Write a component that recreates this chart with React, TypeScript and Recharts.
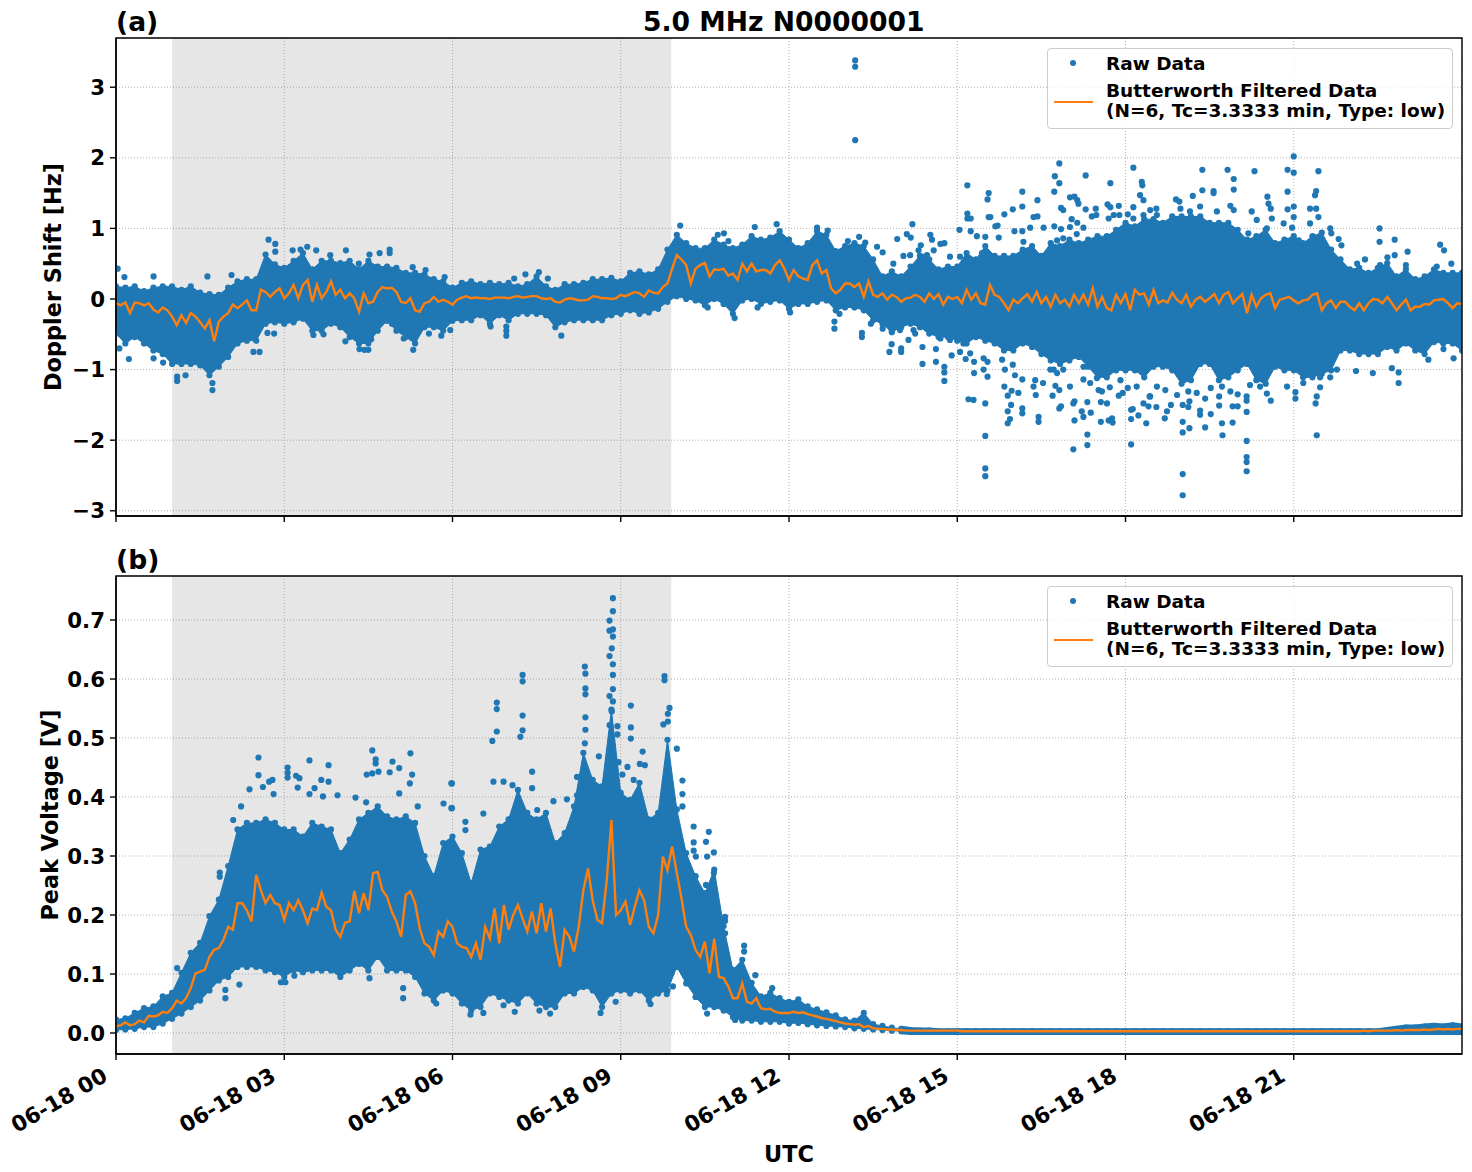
import {
  Area,
  CartesianGrid,
  ComposedChart,
  Legend,
  Line,
  ReferenceArea,
  Scatter,
  XAxis,
  YAxis,
} from "recharts";

const FONT = "'DejaVu Sans', sans-serif";
const BLUE = "#1f77b4";
const ORANGE = "#ff7f0e";

const hourTicks = [0, 3, 6, 9, 12, 15, 18, 21];
const hourLabels = ["06-18 00", "06-18 03", "06-18 06", "06-18 09", "06-18 12", "06-18 15", "06-18 18", "06-18 21"];
const dopplerTicks = [-3, -2, -1, 0, 1, 2, 3];
const voltageTicks = [0, 0.1, 0.2, 0.3, 0.4, 0.5, 0.6, 0.7];
const nightStart = 1.0;
const nightEnd = 9.9;

// edge of the solid part of the raw cloud (dot centres), one value per 10 minutes
const dopplerHigh = [
  .18, .16, .18, .11, .16, .18, .18, .13, .18, .09, .07, .06,
  .16, .25, .28, .28, .63, .49, .44, .54, .65, .42, .54, .54,
  .51, .54, .42, .54, .46, .46, .44, .37, .37, .35, .28, .25, .16,
  .23, .25, .21, .23, .21, .23, .18, .21, .32, .18, .13,
  .21, .21, .23, .28, .28, .3, .25, .37, .39, .35, .42, .7, .91,
  .79, .72, .72, .84, .77, .72, .77, .89, .84, .87, .96, .84,
  .72, .79, .96, .91, .68, .75,
  .79, .75, .56, .32, .39, .32, .46, .61, .56, .42, .46, .46,
  .65, .56, .75, .61, .61, .61, .7, .75, .61, .79, .75, .84,
  .79, .84, .89, .89, .98, 1.08, 1.03, 1.13,
  1.13, 1.08, 1.17, 1.17, 1.17, 1.17, 1.08, 1.08, 1.08, .98, .84, .89,
  .98, .79, .84, .89, .79, .89, .94, .7, .56, .42, .44, .37,
  .44, .51, .32, .42, .28, .32, .42, .37, .37, .37,
];
const dopplerLow = [
  -.49, -.63, -.54, -.63, -.73, -.78, -.92, -.92, -.92, -.94, -1.08, -.96,
  -.82, -.63, -.59, -.59, -.35, -.33, -.35, -.33, -.28, -.45, -.45, -.35,
  -.4, -.54, -.63, -.63, -.45, -.31, -.45, -.54, -.63, -.4, -.4, -.45, -.31,
  -.3, -.3, -.23, -.35, -.23, -.3, -.21, -.21, -.21, -.23, -.4,
  -.33, -.3, -.3, -.3, -.3, -.23, -.21, -.16, -.21, -.19, -.14, -.04, .04,
  0, -.02, -.09, 0, -.07, -.21, -.02, 0, -.07, -.04, -.02, -.14,
  -.07, -.07, -.04, -.02, -.16, -.12,
  -.12, -.16, -.3, -.35, -.47, -.4, -.35, -.4, -.49, -.54, -.54, -.59,
  -.63, -.54, -.59, -.63, -.73, -.73, -.63, -.68, -.78, -.87, -.92, -.87,
  -.82, -.96, -1.11, -1.11, -1.01, -1.01, -1.01, -1.11,
  -.96, -.96, -1.01, -1.2, -1.15, -.92, -.92, -1.15, -1.11, -1.01, -.92, -1.15,
  -1.2, -.96, -1.01, -1.01, -1.11, -1.11, -1.06, -1.01, -.73, -.73, -.78, -.78,
  -.78, -.68, -.73, -.63, -.73, -.78, -.61, -.63, -.63, -.73,
];

// stray raw samples outside the solid part: [hour, Hz]
const dopplerStray = [
  [13.18, 3.38], [13.18, 3.29], [13.18, 2.25],
  [2.72, .84], [2.84, .78], [2.84, .67], [.03, .43], [.15, .31], [.67, .32], [1.63, .32], [2.06, .34],
  [3.15, .69], [3.29, .7], [3.41, .74], [3.57, .69], [3.82, .62], [4.1, .69], [4.52, .63], [4.7, .65],
  [4.88, .7], [4.88, .65], [4.33, .5], [5.29, .45], [5.52, .41], [5.86, .31],
  [1.72, -1.29], [1.72, -1.19], [1.09, -1.1], [1.09, -1.16], [1.24, -1.08], [.84, -.9], [.67, -.84],
  [.23, -.85], [.06, -.7], [2.45, -.75], [2.56, -.75], [2.7, -.48], [2.82, -.49], [3.52, -.51], [3.7, -.5],
  [4.09, -.6], [4.23, -.52], [4.34, -.71], [4.43, -.72], [4.5, -.72], [4.55, -.57], [4.92, -.35],
  [5.3, -.72], [5.13, -.56], [5.58, -.49], [5.8, -.52],
  [7.1, .29], [7.3, .35], [7.54, .38], [7.7, .29], [10.84, .93], [10.06, 1.04], [11.39, 1.02], [11.78, 1.06],
  [12.5, 1.01], [12.69, .97], [13.05, .82], [10.92, .82], [10.73, .91],
  [6.96, -.39], [6.96, -.45], [6.96, -.52], [6.68, -.39], [7.94, -.52], [12.81, -.32], [12.81, -.42],
  [12.9, -.21], [11.03, -.27], [11.44, -.12], [12.02, -.19], [10.55, -.12], [5.96, -.44],
  [16.82, 1.92], [16.74, 1.74], [16.82, 1.64], [17.29, 1.75], [18.14, 1.86], [17.73, 1.64], [15.18, 1.61],
  [15.56, 1.5], [15.54, 1.41], [16.16, 1.52], [16.16, 1.31], [15.99, 1.27], [15.84, 1.2], [16.43, 1.4],
  [16.73, 1.52], [16.85, 1.29], [16.89, 1.26], [17.01, 1.44], [17.09, 1.45], [17.14, 1.4], [17.16, 1.35],
  [17.29, 1.27], [17.47, 1.28], [17.68, 1.34], [17.73, 1.3], [17.88, 1.32], [18.29, 1.66], [18.3, 1.61],
  [18.26, 1.47], [18.32, 1.4], [18.14, 1.3], [18.04, 1.2], [18.44, 1.26], [18.55, 1.28], [15.18, 1.21],
  [15.18, 1.14], [15.24, 1.14], [15.56, 1.16], [15.59, 1.16], [16.36, 1.16], [16.43, 1.17], [17.04, 1.13],
  [17.14, 1.08], [14.2, 1.06], [13.93, .85], [14.1, .92], [14.17, .87], [14.52, .91], [14.55, .84],
  [14.7, .78], [14.77, .79], [14.35, .76], [15.04, .98], [15.24, .96], [15.35, .89], [15.5, .88],
  [15.72, 1.04], [15.68, 1.03], [16.02, .96], [16.16, .96], [16.3, 1.01], [16.54, 1.01], [16.73, 1.03],
  [16.85, .99], [17.01, 1.02], [17.25, 1.01], [17.4, 1.17], [17.48, 1.19], [17.7, 1.14], [17.79, 1.19],
  [17.89, 1.19], [18.14, 1.14], [18.32, 1.19], [18.56, 1.19], [16.89, .86], [17.13, .92], [16.78, .83],
  [16.18, .81], [15.74, .87], [15.44, .65], [14.04, .61], [13.86, .5], [13.67, .66], [13.57, .74],
  [13.36, .8], [13.25, .88], [14.46, .62], [14.31, .69], [14.58, .69], [14.87, .6], [15.05, .6], [14.16, .62], [14.37, .6],
  [13.98, -.44], [14.22, -.44], [14.46, -.42], [14.7, -.56], [14.87, -.58], [15.11, -.63], [15.23, -.77], [14.13, -.58], [14.25, -.49],
  [13.3, -.48], [13.3, -.54], [13.46, -.35], [13.67, -.42], [13.83, -.44], [13.83, -.64], [13.79, -.75],
  [14, -.7], [14, -.75], [14.38, -.68], [14.38, -.92], [14.62, -.89], [14.62, -.71], [14.77, -.96],
  [14.77, -1.04], [14.77, -1.16], [14.9, -.8], [15.05, -.75], [15.15, -.85], [15.2, -1.42], [15.29, -1.43],
  [15.3, -.89], [15.3, -1.05], [15.5, -1.48], [15.5, -1.94], [15.5, -2.4], [15.5, -2.51], [15.47, -.84],
  [15.54, -.89], [15.54, -1.1], [15.47, -1.0], [15.8, -.86], [15.85, -1.0], [15.9, -1.37], [15.84, -1.24],
  [15.97, -1.3], [16.09, -1.33], [15.96, -1.5], [15.9, -1.59], [15.94, -1.7], [15.9, -1.76], [16.16, -1.55],
  [16.16, -1.62], [16.16, -1.14], [16.03, -1.08], [15.99, -.93], [16.39, -1.15], [16.36, -1.24], [16.4, -1.36],
  [16.53, -1.19], [16.45, -1.67], [16.45, -1.74], [16.7, -1.37], [16.82, -1.29], [16.75, -1.23], [16.85, -1.52],
  [16.82, -1.55], [17.09, -1.45], [17.07, -1.48], [17.22, -1.59], [17.25, -1.67], [17.09, -1.72], [17.07, -2.13],
  [17.32, -1.46], [17.38, -1.61], [17.32, -1.92], [17.32, -2.07], [17.56, -1.46], [17.67, -1.48], [17.56, -1.74],
  [17.7, -1.72], [17.76, -1.69], [17.77, -1.75], [17.37, -1.19], [17.25, -1.14], [17.52, -1.29], [17.58, -1.31],
  [17.88, -1.37], [17.95, -1.33], [18.1, -1.57], [18.13, -1.56], [18.23, -1.65], [18.37, -1.76], [18.1, -1.7],
  [18.1, -2.06], [18.41, -1.52], [18.55, -1.53], [18.32, -1.48], [18.43, -1.38], [18.56, -1.24], [18.2, -1.24],
  [17.72, -1.25], [17.01, -1.24], [16.72, -1.0], [16.78, -1.05], [16.89, -1.0], [17.25, -.96], [17.49, -1.12],
  [17.91, -1.15], [18.04, -1.26], [16.66, -1.0],
  [21, 2.02], [19.37, 1.83], [19.82, 1.83], [20.3, 1.81], [20.89, 1.83], [21, 1.79], [21.44, 1.81], [19.93, 1.7],
  [19.37, 1.54], [19.57, 1.53], [19.57, 1.5], [19.93, 1.55], [19.2, 1.46], [18.9, 1.41], [18.96, 1.38],
  [20.53, 1.45], [20.89, 1.52], [21.4, 1.53], [21.38, 1.47], [20.55, 1.35], [20.89, 1.27], [21, 1.31],
  [21.29, 1.28], [21.4, 1.28], [21, 1.16], [21.44, 1.16], [20.59, 1.28], [20.61, 1.14], [19.33, 1.31],
  [19.87, 1.32], [19.93, 1.26], [20.25, 1.24], [20.34, 1.12], [20.82, 1.07], [21.29, 1.07], [20.97, 1.01],
  [21.65, 1.0], [22.53, 1.0], [22.53, .81], [22.8, .84], [21.8, .85], [21.85, .76], [23.61, .77], [23.68, .69],
  [23.03, .67], [22.8, .62], [22.27, .56], [23.81, .5], [23, .48], [22.67, .59], [19.15, 1.24], [18.98, 1.28],
  [19.63, 1.24], [20.19, .93], [20.46, .86], [20.52, 1.0], [21.09, .83], [21.67, .93], [22.13, .5], [22.54, .48],
  [23.55, .46],
  [19.02, -2.78], [19.02, -2.48], [19.02, -1.89], [19.02, -1.74], [19.14, -1.83], [18.7, -1.69], [18.74, -1.59],
  [18.81, -1.5], [19.02, -1.5], [19.12, -1.53], [19.14, -1.45], [19.33, -1.58], [19.33, -1.64], [19.52, -1.63],
  [19.42, -1.82], [19.72, -1.76], [19.73, -1.93], [19.91, -1.75], [19.67, -1.51], [19.91, -1.52], [20, -1.52],
  [19.42, -1.41], [19.52, -1.26], [19.67, -1.38], [20, -1.35], [20.16, -1.38], [20.16, -1.44], [20.16, -1.6],
  [20.16, -2.01], [20.16, -2.24], [20.16, -2.31], [20.16, -2.44], [20.59, -1.44], [21.03, -1.41], [21.03, -1.32],
  [21.39, -1.48], [21.41, -1.38], [21.41, -1.93], [21.47, -1.25], [20.52, -1.34], [20.88, -1.24], [20.22, -1.22],
  [20.4, -1.24], [21.17, -1.19], [21.47, -1.11], [21.65, -1.11], [22.11, -1.02], [22.41, -1.05], [22.75, -.98],
  [22.87, -1.19], [22.87, -1.04], [21.77, -1.0], [23.4, -.86], [23.85, -.84], [23.67, -.71], [19.12, -1.31],
  [18.92, -1.36], [18.71, -1.29], [18.44, -1.38], [19.27, -1.33], [19.72, -1.24], [19.87, -1.31],
];

// low-pass filtered Doppler shift, one value per 5 minutes
const dopplerFiltered = [
  -.06, -.09, -.05, -.2, -.05, -.06, -.09, -.06, -.15, -.19, -.12, -.16,
  -.25, -.37, -.23, -.34, -.2, -.25, -.33, -.42, -.3, -.6, -.32, -.25,
  -.2, -.08, -.13, -.08, -.02, -.16, -.16, .13, .1, .03, .1, .15,
  .01, .08, .2, .01, .2, .27, -.04, .2, .01, .1, .25, .06,
  .13, .01, .08, .01, -.18, .08, -.06, -.04, .1, .17, .15, .16,
  .1, -.04, -.06, .01, -.16, -.18, -.06, -.04, .03, -.04, -.01, -.04,
  -.08, -.01, .02, .04, .01, .02, .01, .01, 0, .02, .02, .02,
  .01, .03, .04, .02, .03, .04, .04, .01, 0, .01, -.04, -.05,
  -.01, .01, 0, -.02, -.02, -.01, .04, .03, .01, .01, 0, .01,
  .06, .04, .07, .1, .08, .03, .12, .09, .08, .17, .22, .43,
  .62, .56, .48, .22, .43, .48, .51, .32, .42, .41, .43, .33,
  .36, .27, .5, .39, .5, .39, .41, .41, .36, .48, .55, .43,
  .27, .41, .32, .29, .27, .48, .55, .36, .41, .15, .08, .13,
  .22, .22, .17, .22, .03, .25, .06, .03, .08, -.01, .06, .03,
  -.04, .01, .02, .06, .03, -.04, .08, 0, .07, -.08, .03, 0,
  .03, -.06, .13, -.01, .08, -.06, -.08, .2, .06, .03, -.06, -.16,
  -.01, -.06, .01, .07, -.04, .1, -.06, .03, -.11, .06, -.06, -.01,
  -.11, .06, -.06, .06, -.08, .15, -.11, .03, -.13, -.16, .06, -.06,
  .07, -.16, .13, .06, .08, -.08, .13, -.06, -.02, -.05, .09, -.01,
  -.06, .06, -.11, -.01, .03, -.04, .01, .07, -.06, .06, .1, -.06,
  .01, .07, -.2, .06, -.11, .01, .06, .08, -.13, -.01, .01, .03,
  -.02, -.06, -.02, -.01, .06, .08, -.16, -.06, -.02, -.13, -.04, -.04,
  -.11, -.16, -.06, -.16, -.06, 0, -.01, -.06, .03, -.06, -.16, -.08,
  -.01, -.16, -.11, -.11, -.07, -.08, -.02, -.01, 0, -.06, -.13, -.06, -.07,
];

const voltageHigh = [
  .023, .025, .034, .042, .045, .062, .068, .102, .136, .153, .198, .226,
  .283, .345, .356, .356, .362, .356, .345, .345, .333, .356, .35, .345,
  .305, .328, .362, .373, .384, .367, .362, .367, .356, .3, .266, .322, .333,
  .305, .254, .311, .316, .35, .362, .412, .373, .362, .373, .322,
  .339, .384, .475, .429, .418, .548, .407, .395, .424, .362, .373, .497,
  .379, .305, .266, .237, .277, .181, .107, .124, .085, .062, .068, .059, .053,
  .057, .045, .04, .035, .03, .023, .021, .034, .015, .012, .009, .007,
  .005, .004, .004,
  .003, .003, .003, .003, .003, .003, .003, .003, .003, .003, .003, .003,
  .003, .003, .003, .003, .003, .003, .003, .003, .003, .003, .003, .003,
  .003, .003, .003, .003, .003, .003, .003, .003, .003, .003, .003, .003,
  .003, .003, .003, .003, .003, .003, .003, .003, .003, .003, .003, .003,
  .005, .007, .009, .009, .011, .012, .011, .013, .011,
];
const voltageLow = [
  .005, .006, .007, .01, .01, .016, .024, .033, .044, .055, .072, .089,
  .095, .112, .112, .112, .106, .103, .095, .106, .103, .106, .106, .106,
  .095, .106, .117, .106, .129, .106, .106, .106, .095, .067, .055, .072, .067,
  .05, .038, .044, .067, .061, .055, .05, .067, .05, .044, .044,
  .067, .067, .078, .072, .044, .067, .072, .067, .072, .055, .067, .072,
  .112, .084, .061, .044, .044, .038, .027, .021, .021, .019, .019, .019, .016,
  .017, .015, .013, .012, .011, .01, .008, .007, .006, .005, .004, .003,
  .002, .002, .002,
  .002, .002, .002, .002, .002, .002, .002, .002, .002, .002, .002, .002,
  .002, .002, .002, .002, .002, .002, .002, .002, .002, .002, .002, .002,
  .002, .002, .002, .002, .002, .002, .002, .002, .002, .002, .002, .002,
  .002, .002, .002, .002, .002, .002, .002, .002, .002, .002, .002, .002,
  .002, .002, .002, .002, .002, .002, .002, .002, .002,
];
const voltageStray = [
  [2.54, .467], [2.54, .437], [3.06, .45], [3.06, .441], [3.06, .433], [3.45, .462], [3.79, .454], [4.57, .479],
  [4.63, .464], [4.63, .457], [5.25, .474], [4.93, .46], [5.05, .449], [4.47, .438], [4.57, .44], [4.68, .443],
  [4.88, .442], [5.28, .438], [5.98, .423], [2.38, .413], [2.62, .417], [2.79, .429], [2.73, .426], [3.21, .436],
  [3.27, .432], [3.66, .429], [3.79, .426], [3.24, .416], [3.54, .415], [2.81, .405], [3.45, .405], [3.95, .403],
  [3.69, .401], [4.27, .399], [4.46, .391], [5.05, .406], [5.24, .423], [5.38, .384], [5.84, .389], [5.98, .381],
  [2.09, .361], [2.23, .384], [1.85, .272], [1.85, .265], [1.09, .11],
  [1.95, .073], [1.95, .059], [2.2, .082], [2.94, .086], [3.02, .086], [3.18, .097], [4.52, .093], [5.12, .076],
  [5.12, .059], [5.71, .05],
  [8.86, .737], [8.86, .715], [8.8, .699], [8.8, .682], [8.86, .684], [8.86, .672], [8.84, .652], [8.8, .639],
  [8.86, .625], [8.86, .607], [8.86, .583], [8.8, .571], [8.86, .562], [8.84, .545], [8.8, .522], [8.94, .52],
  [8.94, .506], [7.25, .607], [7.25, .596], [6.79, .56], [6.79, .549], [6.79, .511], [6.71, .495], [7.25, .538],
  [7.25, .513], [7.21, .502], [8.36, .621], [8.37, .609], [8.37, .584], [8.37, .574], [8.37, .535], [8.37, .514],
  [8.36, .491], [9.18, .555], [9.18, .518], [9.18, .499], [9.39, .477], [9.78, .605], [9.78, .598], [9.87, .551],
  [9.84, .541], [9.76, .523], [9.84, .528], [10, .482], [10.1, .428], [10.1, .405], [10.1, .384], [10.3, .35],
  [10.3, .323], [10.3, .309], [10.34, .299], [10.57, .341], [10.52, .324], [10.66, .306], [10.54, .299], [10.33, .265],
  [10.52, .251], [10.66, .271], [10.86, .197], [10.86, .19], [10.86, .169], [11.2, .148], [11.2, .138], [11.4, .098],
  [11.7, .076], [5.99, .423], [5.99, .381], [6.23, .358], [6.23, .344], [6.55, .372], [6.73, .426], [6.91, .426],
  [7.07, .42], [7.42, .443], [7.42, .415], [7.8, .393], [7.51, .378], [8.04, .396], [8.22, .434], [8.22, .403],
  [8.61, .469], [8.96, .459], [9.12, .451], [9.34, .456], [9.43, .454], [9.03, .438], [9.23, .429],
  [6.32, .031], [6.55, .034], [6.91, .047], [7.11, .036], [7.55, .038], [7.74, .033], [8.64, .034], [8.91, .053],
  [9.53, .049], [9.82, .066], [9.93, .079], [9.82, .09], [10.54, .033], [11.04, .022],
];
const voltageFiltered = [
  .012, .013, .018, .013, .015, .021, .018, .029, .028, .03, .036, .034,
  .042, .055, .05, .059, .076, .101, .104, .107, .129, .141, .144, .158,
  .18, .175, .22, .22, .208, .189, .268, .242, .22, .234, .22, .217,
  .192, .22, .208, .225, .208, .186, .211, .208, .238, .214, .208, .175,
  .163, .187, .189, .241, .203, .237, .208, .271, .273, .242, .231, .206,
  .189, .163, .234, .24, .22, .177, .152, .146, .132, .172, .163, .189,
  .18, .152, .146, .144, .129, .152, .124, .18, .16, .211, .152, .217,
  .175, .2, .217, .194, .172, .206, .169, .22, .172, .211, .152, .112,
  .175, .163, .138, .18, .242, .279, .225, .192, .186, .259, .361, .2,
  .208, .223, .183, .214, .242, .225, .18, .169, .2, .299, .276, .316,
  .271, .228, .18, .166, .141, .129, .155, .101, .16, .095, .093, .079,
  .059, .059, .084, .053, .05, .059, .042, .04, .041, .036, .034, .034,
  .034, .036, .034, .035, .032, .03, .028, .025, .024, .022, .02, .018,
  .016, .015, .014, .015, .01, .012, .008, .007, .007, .006, .006, .005,
  .005, .004, .004, .004, .004, .004, .004, .004, .004, .004, .004, .004,
  .004, .003, .003, .003, .003, .003, .003, .003, .003, .003, .003, .003,
  .003, .003, .003, .003, .003, .003, .003, .003, .003, .003, .003, .003,
  .003, .003, .003, .003, .003, .003, .003, .003, .003, .003, .003, .003,
  .003, .003, .003, .003, .003, .003, .003, .003, .003, .003, .003, .003,
  .003, .003, .003, .003, .003, .003, .003, .003, .003, .003, .003, .003,
  .003, .003, .003, .003, .003, .003, .003, .003, .003, .003, .003, .003,
  .003, .003, .003, .003, .003, .003, .003, .003, .003, .003, .003, .003,
  .003, .003, .003, .004, .003, .004, .004, .004, .004, .004, .005, .004,
  .005, .005, .005, .005, .006, .005, .006, .007, .006, .007, .006, .007, .007,
];

const toBand = (high: number[], low: number[]) =>
  high.map((h, i) => ({ t: i / 6, band: [low[i], h] }));
const toLine = (values: number[]) => values.map((v, i) => ({ t: i / 12, v }));
const toPoints = (pairs: number[][]) => pairs.map(([t, v]) => ({ t, v }));
const toEdge = (values: number[]) => values.map((v, i) => ({ t: i / 6, v }));

const legendText = { font: `bold 18.5px ${FONT}`, color: "#000", whiteSpace: "nowrap" as const, position: "absolute" as const, left: 58 };

function FitLegend() {
  return (
    <div
      style={{
        position: "relative",
        width: 404,
        height: 79,
        background: "rgba(255,255,255,0.8)",
        border: "1.3px solid #cccccc",
        borderRadius: 4,
      }}
    >
      <span style={{ position: "absolute", left: 22, top: 11, width: 6, height: 6, borderRadius: 3, background: BLUE }} />
      <span style={{ ...legendText, top: 4 }}>Raw Data</span>
      <span style={{ position: "absolute", left: 6, top: 52, width: 39, height: 2, background: ORANGE }} />
      <span style={{ ...legendText, top: 31 }}>Butterworth Filtered Data</span>
      <span style={{ ...legendText, top: 51 }}>(N=6, Tc=3.3333 min, Type: low)</span>
    </div>
  );
}

function RawDot(props: any) {
  return <circle cx={props.cx} cy={props.cy} r={3.1} fill={BLUE} />;
}

function HourTick({ x, y, index }: any) {
  return (
    <text
      x={x - 7}
      y={y + 18}
      transform={`rotate(-30 ${x - 7} ${y + 18})`}
      textAnchor="end"
      fontFamily={FONT}
      fontWeight="bold"
      fontSize={21.6}
      fill="#000"
    >
      {hourLabels[index]}
    </text>
  );
}

function NoTickLabel() {
  return <g />;
}

interface PanelProps {
  high: number[];
  low: number[];
  stray: number[][];
  filtered: number[];
  ticks: number[];
  domain: number[];
  yLabel: string;
  formatY: (v: number) => string;
  height: number;
  bottom: number;
  showHours: boolean;
  yLabelOffset: number;
  thinFrom?: number;
}

function Panel({ high, low, stray, filtered, ticks, domain, yLabel, formatY, height, bottom, showHours, yLabelOffset, thinFrom }: PanelProps) {
  const tickFont = { fontFamily: FONT, fontWeight: "bold", fontSize: 21.3, fill: "#000" };
  const labelFont = { ...tickFont, fontSize: 22.4 };
  const rawPoints = [...toEdge(high), ...toEdge(low), ...toPoints(stray)];
  return (
    <ComposedChart width={1472} height={height} margin={{ top: 38, right: 10, bottom, left: 56 }}>
      <ReferenceArea x1={nightStart} x2={nightEnd} y1={domain[0]} y2={domain[1]} fill="#808080" fillOpacity={0.2} stroke="none" />
      <CartesianGrid stroke="#b0b0b0" strokeDasharray="1 2" strokeWidth={1} />
      <XAxis
        dataKey="t"
        type="number"
        domain={[0, 24]}
        ticks={hourTicks}
        interval={0}
        allowDataOverflow
        height={showHours ? 100 : 8}
        tickSize={6}
        stroke="#000"
        tickLine={{ stroke: "#000", strokeWidth: 1.4 }}
        axisLine={{ stroke: "#000", strokeWidth: 1.4 }}
        tick={showHours ? <HourTick /> : <NoTickLabel />}
        label={showHours ? { value: "UTC", position: "insideBottom", offset: -8, style: labelFont } : undefined}
      />
      <YAxis
        type="number"
        domain={domain}
        ticks={ticks}
        interval={0}
        allowDataOverflow
        width={60}
        tickSize={6}
        tickMargin={5}
        tickFormatter={formatY}
        tick={tickFont}
        tickLine={{ stroke: "#000", strokeWidth: 1.4 }}
        axisLine={{ stroke: "#000", strokeWidth: 1.4 }}
        label={{ value: yLabel, angle: -90, position: "insideLeft", offset: yLabelOffset, style: { ...labelFont, textAnchor: "middle" } }}
      />
      <Area
        data={toBand(high, low)}
        dataKey="band"
        type="linear"
        fill={BLUE}
        fillOpacity={1}
        stroke={BLUE}
        strokeWidth={1}
        dot={false}
        activeDot={false}
        legendType="none"
        isAnimationActive={false}
      />
      {thinFrom !== undefined && (
        <Line
          data={toEdge(high).slice(thinFrom)}
          dataKey="v"
          type="linear"
          stroke={BLUE}
          strokeWidth={6.2}
          dot={false}
          activeDot={false}
          legendType="none"
          isAnimationActive={false}
        />
      )}
      {thinFrom !== undefined && (
        <Line
          data={toEdge(low).slice(thinFrom)}
          dataKey="v"
          type="linear"
          stroke={BLUE}
          strokeWidth={6.2}
          dot={false}
          activeDot={false}
          legendType="none"
          isAnimationActive={false}
        />
      )}
      <Scatter data={rawPoints} dataKey="v" shape={RawDot} isAnimationActive={false} />
      <Line
        data={toLine(filtered)}
        dataKey="v"
        type="linear"
        stroke={ORANGE}
        strokeWidth={2.4}
        dot={false}
        activeDot={false}
        isAnimationActive={false}
        zIndex={700}
      />
      <ReferenceArea x1={0} x2={24} y1={domain[0]} y2={domain[1]} fill="none" stroke="#000" strokeWidth={1.4} zIndex={800} />
      <Legend
        layout="vertical"
        align="center"
        verticalAlign="middle"
        content={FitLegend}
        wrapperStyle={{ position: "absolute", left: 1047, top: 48, width: 406, height: 81, right: "auto", bottom: "auto" }}
      />
    </ComposedChart>
  );
}

export default function App() {
  const titleStyle = { position: "absolute" as const, font: `bold 26.6px ${FONT}`, color: "#000", whiteSpace: "nowrap" as const };
  return (
    <div style={{ position: "absolute", left: 0, top: 0, width: 1472, height: 1172, background: "#fff", overflow: "hidden" }}>
      <div style={{ position: "absolute", left: 0, top: 0 }}>
        <Panel
          high={dopplerHigh}
          low={dopplerLow}
          stray={dopplerStray}
          filtered={dopplerFiltered}
          ticks={dopplerTicks}
          domain={[-3.074, 3.697]}
          yLabel="Doppler Shift [Hz]"
          formatY={(v) => String(v).replace("-", "\u2212")}
          height={530}
          bottom={6}
          showHours={false}
          yLabelOffset={-3}
        />
      </div>
      <div style={{ position: "absolute", left: 0, top: 538 }}>
        <Panel
          high={voltageHigh}
          low={voltageLow}
          stray={voltageStray}
          filtered={voltageFiltered}
          ticks={voltageTicks}
          domain={[-0.0356, 0.7746]}
          yLabel="Peak Voltage [V]"
          formatY={(v) => v.toFixed(1)}
          height={634}
          bottom={18}
          showHours
          yLabelOffset={-6}
          thinFrom={84}
        />
      </div>
      <div style={{ ...titleStyle, left: 116, top: 6 }}>(a)</div>
      <div style={{ ...titleStyle, left: 643, top: 6 }}>5.0 MHz N0000001</div>
      <div style={{ ...titleStyle, left: 116, top: 544 }}>(b)</div>
    </div>
  );
}
